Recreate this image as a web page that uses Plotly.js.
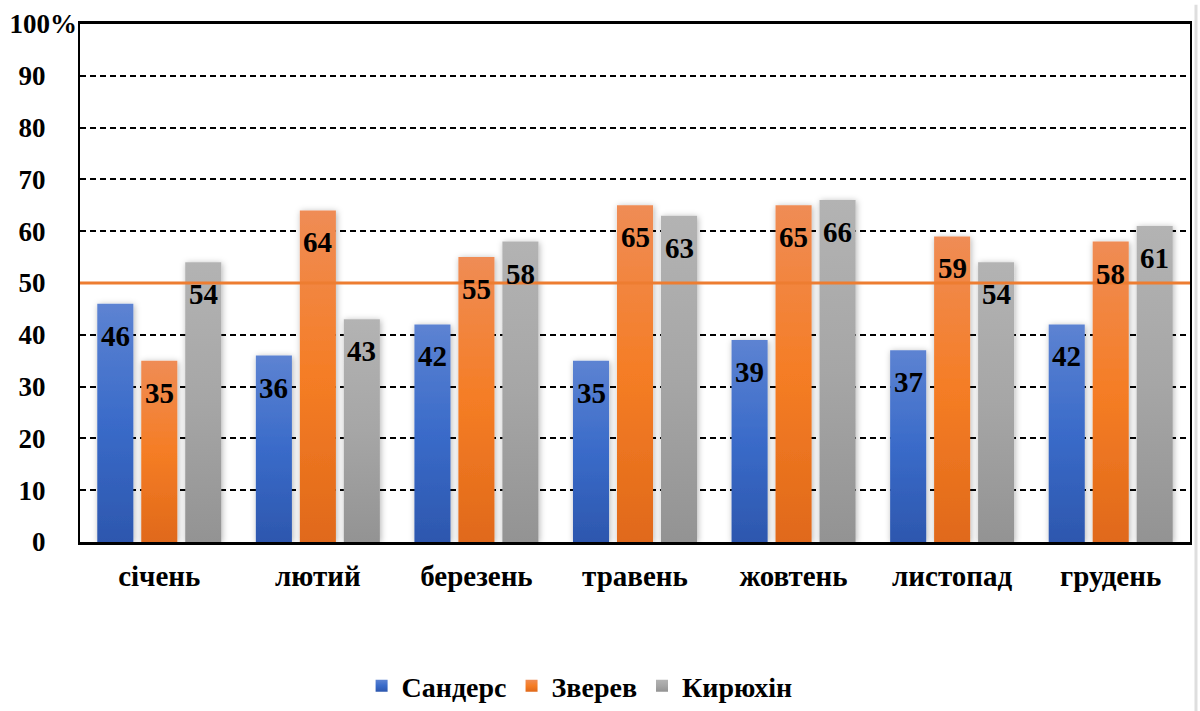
<!DOCTYPE html>
<html>
<head>
<meta charset="utf-8">
<script src="https://cdn.plot.ly/plotly-3.0.1.min.js"></script>
<style>
  html, body { margin: 0; padding: 0; background: #fff; }
  #chart { width: 1200px; height: 711px; }
  /* all chart text in bold serif */
  #chart text, #chart tspan {
    font-family: 'Liberation Serif', 'Times New Roman', serif !important;
    font-weight: 700 !important;
  }
</style>
</head>
<body>
<div id="chart"></div>
<script>
// Monthly shares, %
const months = ['січень', 'лютий', 'березень', 'травень', 'жовтень', 'листопад', 'грудень'];
const seriesNames = ['Сандерс', 'Зверев', 'Кирюхін'];
const sanders = [46, 36, 42, 35, 39, 37, 42];
const zverev = [35, 64, 55, 65, 65, 59, 58];
const kyriukhin = [54, 43, 58, 63, 66, 54, 61];
const threshold = 50;
const yTickVals = [0, 10, 20, 30, 40, 50, 60, 70, 80, 90, 100];
const yTickText = ['0', '10', '20', '30', '40', '50', '60', '70', '80', '90', '100%'];

const seriesValues = [sanders, zverev, kyriukhin];
const baseColors = ['#4472c4', '#ed7d31', '#a5a5a5'];
const gradientStops = [
  ['#5d83d2', '#3a6bc9', '#2d57ae'],
  ['#ef8c55', '#f57d25', '#e0691a'],
  ['#b3b3b3', '#a6a6a6', '#939393']
];

const FONT = 'Liberation Serif';

const traces = seriesValues.map((vals, k) => ({
  type: 'bar',
  name: seriesNames[k],
  x: months,
  y: vals,
  marker: { color: baseColors[k], line: { width: 0 } },
  hoverinfo: 'skip'
}));

// value labels sit just below each bar's top
const groupStep = 44;
const annotations = [];
seriesValues.forEach((vals, k) => {
  vals.forEach((v, i) => {
    annotations.push({
      x: months[i], y: v, xref: 'x', yref: 'y',
      text: String(v), showarrow: false,
      xshift: (k - 1) * groupStep, yshift: -32,
      yanchor: 'middle', xanchor: 'center',
      font: { family: FONT, size: 29, color: '#000', weight: 700 }
    });
  });
});

// the top label carries the percent sign and hangs past the number column
const last = yTickVals.length - 1;

const layout = {
  width: 1200, height: 711,
  margin: { l: 80, r: 10, t: 24, b: 169, pad: 0 },
  paper_bgcolor: '#fff', plot_bgcolor: '#fff',
  font: { family: FONT, color: '#000', weight: 700 },
  barmode: 'group', bargap: 0.168, bargroupgap: 0.18,
  showlegend: true,
  legend: {
    orientation: 'h', xref: 'container', yref: 'container',
    x: 0.483, xanchor: 'center', y: -0.012, yanchor: 'bottom',
    font: { family: FONT, size: 28, color: '#000', weight: 700 },
    itemwidth: 30, tracegroupgap: 0, traceorder: 'normal'
  },
  xaxis: {
    type: 'category', showgrid: false,
    showline: true, linecolor: '#000', linewidth: 3, mirror: true,
    ticks: '', ticklabelstandoff: 6,
    tickfont: { family: FONT, size: 29, color: '#000', weight: 700 },
    fixedrange: true
  },
  yaxis: {
    range: [0, 100], tickvals: yTickVals.slice(0, last), ticktext: yTickText.slice(0, last),
    showgrid: true, gridcolor: '#000', gridwidth: 2, griddash: '6px,4px',
    showline: true, linecolor: '#000', linewidth: 2, mirror: true,
    zeroline: false, ticks: '', ticklabelstandoff: 27,
    tickfont: { family: FONT, size: 27, color: '#000', weight: 700 },
    fixedrange: true
  },
  yaxis2: {
    overlaying: 'y', side: 'left', range: [0, 100],
    tickvals: yTickVals.slice(last), ticktext: yTickText.slice(last),
    showgrid: false, showline: false, zeroline: false, ticks: '', ticklabelstandoff: 2,
    tickfont: { family: FONT, size: 27, color: '#000', weight: 700 },
    fixedrange: true
  },
  shapes: [
    { type: 'line', xref: 'paper', yref: 'y', x0: 0, x1: 1, y0: threshold, y1: threshold,
      line: { color: '#ed7d31', width: 3 }, layer: 'above' },
    { type: 'line', xref: 'paper', yref: 'paper', x0: 1.0054, x1: 1.0054, y0: -0.33, y1: 1.037,
      line: { color: '#dedede', width: 3 }, layer: 'above' }
  ],
  annotations: annotations
};

// empty trace that keeps the second y axis (top label) on the chart
traces.push({ type: 'scatter', x: [], y: [], yaxis: 'y2', showlegend: false, hoverinfo: 'skip' });

function styleBars(gd) {
  const ns = 'http://www.w3.org/2000/svg';
  const svg = gd.querySelector('svg.main-svg');
  let defs = svg.querySelector('defs');
  if (!defs) { defs = document.createElementNS(ns, 'defs'); svg.insertBefore(defs, svg.firstChild); }

  gradientStops.forEach((stops, k) => {
    const g = document.createElementNS(ns, 'linearGradient');
    g.setAttribute('id', 'barFill' + k);
    g.setAttribute('x1', '0'); g.setAttribute('y1', '0');
    g.setAttribute('x2', '0'); g.setAttribute('y2', '1');
    stops.forEach((c, j) => {
      const s = document.createElementNS(ns, 'stop');
      s.setAttribute('offset', (j / (stops.length - 1) * 100) + '%');
      s.setAttribute('stop-color', c);
      g.appendChild(s);
    });
    defs.appendChild(g);
  });

  const f = document.createElementNS(ns, 'filter');
  f.setAttribute('id', 'barShadow');
  f.setAttribute('x', '-0.5'); f.setAttribute('y', '-0.1');
  f.setAttribute('width', '2'); f.setAttribute('height', '1.2');
  const ds = document.createElementNS(ns, 'feDropShadow');
  ds.setAttribute('dx', '1'); ds.setAttribute('dy', '1');
  ds.setAttribute('stdDeviation', '3');
  ds.setAttribute('flood-color', '#000');
  ds.setAttribute('flood-opacity', '0.3');
  f.appendChild(ds);
  defs.appendChild(f);

  gd.querySelectorAll('.barlayer .trace').forEach((tr, k) => {
    tr.querySelectorAll('path').forEach(p => {
      p.style.fill = 'url(#barFill' + k + ')';
      p.setAttribute('filter', 'url(#barShadow)');
    });
  });
  gd.querySelectorAll('.legend .traces').forEach((tr, k) => {
    tr.querySelectorAll('.legendpoints path').forEach(p => {
      p.style.fill = 'url(#barFill' + k + ')';
    });
  });
}

Plotly.newPlot('chart', traces, layout, { displayModeBar: false }).then(styleBars);
</script>
</body>
</html>
